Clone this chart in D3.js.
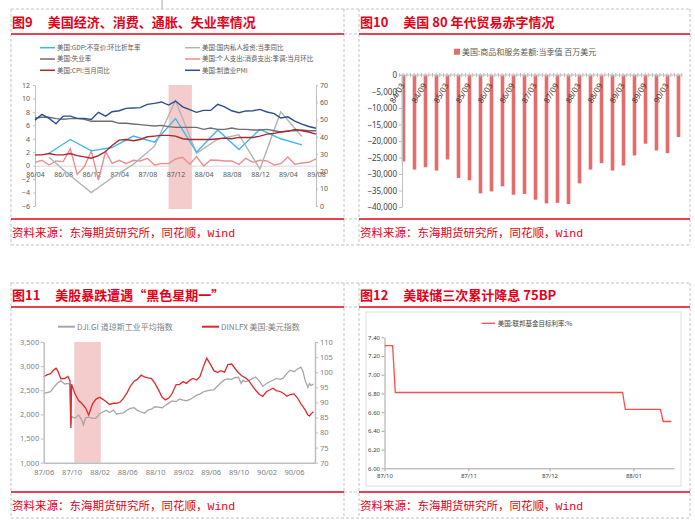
<!DOCTYPE html>
<html>
<head>
<meta charset="utf-8">
<script src="https://cdn.jsdelivr.net/npm/d3@7"></script>
<style>
  body { margin: 0; background: #fff; }
  text { font-family: "Noto Sans", "Noto Sans CJK SC", sans-serif; }
</style>
</head>
<body>
<div id="chart"></div>
<script>
// ---------- data ----------
// 图9 monthly series, 86/04 .. 89/08
var p1Pmi = [49.7, 53, 50.7, 47.6, 52, 52, 50.7, 50.7, 50.1,
  54.2, 52, 54.5, 55.1, 56.5, 56.7, 56.9, 58.8, 59.4, 60.2, 58.4, 60.7,
  57.4, 55.7, 54.2, 55.3, 55.3, 58.8, 57.3, 55.1, 54, 55, 55.1, 55.9,
  54.4, 53.4, 50.9, 51.6, 49.1, 47.4, 46, 45];
var p1Unemp = [7.1, 7.2, 7.2, 7.0, 6.9, 7.0, 7.0, 6.9, 6.6,
  6.6, 6.6, 6.6, 6.3, 6.3, 6.2, 6.1, 6.0, 5.9, 6.0, 5.8, 5.7,
  5.7, 5.7, 5.7, 5.4, 5.6, 5.4, 5.4, 5.6, 5.4, 5.4, 5.3, 5.3,
  5.4, 5.2, 5.0, 5.2, 5.2, 5.3, 5.2, 5.2];
var p1Cpi = [1.6, 1.6, 1.8, 1.6, 1.6, 1.8, 1.5, 1.3, 1.1,
  1.5, 2.1, 3.0, 3.8, 3.9, 3.7, 3.9, 4.3, 4.4, 4.5, 4.5, 4.4,
  4.0, 3.9, 3.9, 3.9, 3.9, 4.0, 4.1, 4.0, 4.2, 4.2, 4.2, 4.4,
  4.7, 4.8, 5.0, 5.1, 5.4, 5.2, 5.0, 4.7];
var p1Spend = [0.5, 0.8, 0.1, 0.7, 0.6, 2.5, -1.3, -0.15, 2.2,
  -2.15, 2.1, 0.35, 0.8, 0.3, 0.8, 0.7, 1.1, 0.1, 0.3, 0.3, 1.0,
  1.25, 0.2, 1.35, -0.05, 0.85, 0.8, 0.7, 0.7, 0.2, 1.1, 0.5, 0.8,
  0.7, 0.1, 0.3, 1.3, 0.2, 0.4, 0.5, 1.0];
// quarterly, 86/06 .. 89/06
var p1Quarters = ["1986-06-01", "1986-09-01", "1986-12-01", "1987-03-01", "1987-06-01", "1987-09-01",
  "1987-12-01", "1988-03-01", "1988-06-01", "1988-09-01", "1988-12-01", "1989-03-01", "1989-06-01"];
var p1Gdp = [1.85, 3.9, 2.2, 2.7, 4.4, 3.5, 7.0, 2.0, 5.3, 2.4, 5.4, 4.0, 3.1];
var p1Invest = [1.25, -1.5, -4.0, -1.8, 0.2, 2.9, 9.7, 1.85, 3.95, 4.6, -0.5, 8.0, 4.35];
var p1LeftTicks = [-6, -4, -2, 0, 2, 4, 6, 8, 10, 12];
var p1RightTicks = [0, 10, 20, 30, 40, 50, 60, 70];
var p1TickDates = ["1986-04-01", "1986-08-01", "1986-12-01", "1987-04-01", "1987-08-01", "1987-12-01",
  "1988-04-01", "1988-08-01", "1988-12-01", "1989-04-01", "1989-08-01"];
var p1Shade = ["1987-11-01", "1988-02-10"];

// 图10 quarterly trade balance, 百万美元
var p2Quarters = ["84/03", "84/06", "84/09", "84/12", "85/03", "85/06", "85/09", "85/12",
  "86/03", "86/06", "86/09", "86/12", "87/03", "87/06", "87/09", "87/12",
  "88/03", "88/06", "88/09", "88/12", "89/03", "89/06", "89/09", "89/12", "90/03", "90/06"];
var p2Values = [-26200, -28660, -27950, -28960, -25600, -31190, -31900, -35870,
  -35260, -33740, -36280, -36070, -37800, -38920, -38720, -39120,
  -32830, -28660, -26730, -28960, -27440, -24390, -20830, -22870, -23680, -18800];
var p2Ticks = [0, -5000, -10000, -15000, -20000, -25000, -30000, -35000, -40000];

// 图11 DJI and dollar index
var djiSeries = [["1987-06-01", 2434], ["1987-06-15", 2450], ["1987-07-01", 2470], ["1987-07-15", 2560],
  ["1987-08-01", 2650], ["1987-08-15", 2697], ["1987-09-01", 2630], ["1987-09-15", 2641],
  ["1987-09-24", 2620], ["1987-09-28", 1780], ["1987-10-01", 1960], ["1987-10-15", 1920],
  ["1987-11-01", 1986], ["1987-11-15", 1883], ["1987-11-22", 1780], ["1987-12-01", 1930],
  ["1987-12-15", 1945], ["1988-01-01", 1917], ["1988-01-15", 1917], ["1988-02-01", 2015],
  ["1988-02-15", 2050], ["1988-03-01", 2085], ["1988-03-15", 2040], ["1988-04-01", 2088],
  ["1988-04-15", 2010], ["1988-05-01", 2020], ["1988-05-15", 2034], ["1988-06-01", 2092],
  ["1988-06-15", 2125], ["1988-07-01", 2140], ["1988-07-15", 2085], ["1988-08-01", 2050],
  ["1988-08-15", 2025], ["1988-09-01", 2095], ["1988-09-15", 2110], ["1988-10-01", 2159],
  ["1988-10-15", 2150], ["1988-11-01", 2135], ["1988-11-15", 2190], ["1988-12-01", 2240],
  ["1988-12-15", 2280], ["1989-01-01", 2265], ["1989-01-15", 2320], ["1989-02-01", 2297],
  ["1989-02-15", 2284], ["1989-03-01", 2305], ["1989-03-15", 2345], ["1989-04-01", 2400],
  ["1989-04-15", 2420], ["1989-05-01", 2470], ["1989-05-15", 2490], ["1989-06-01", 2503],
  ["1989-06-15", 2510], ["1989-07-01", 2590], ["1989-07-15", 2650], ["1989-08-01", 2720],
  ["1989-08-15", 2735], ["1989-09-01", 2725], ["1989-09-15", 2760], ["1989-10-01", 2770],
  ["1989-10-13", 2641], ["1989-10-20", 2705], ["1989-11-01", 2680], ["1989-11-15", 2700],
  ["1989-12-01", 2740], ["1989-12-15", 2775], ["1990-01-01", 2690], ["1990-01-15", 2580],
  ["1990-02-01", 2640], ["1990-02-15", 2676], ["1990-03-01", 2708], ["1990-03-15", 2745],
  ["1990-04-01", 2725], ["1990-04-15", 2750], ["1990-05-01", 2850], ["1990-05-15", 2915],
  ["1990-06-01", 2885], ["1990-06-15", 2935], ["1990-07-01", 2980], ["1990-07-10", 2900],
  ["1990-07-20", 2700], ["1990-08-01", 2560], ["1990-08-08", 2640], ["1990-08-15", 2600],
  ["1990-08-25", 2628]];
var usdSeries = [["1987-06-01", 98.5], ["1987-06-15", 99.1], ["1987-07-01", 99.5], ["1987-07-15", 100.7],
  ["1987-07-25", 101.3], ["1987-08-01", 100.5], ["1987-08-15", 97.8], ["1987-09-01", 97.9],
  ["1987-09-15", 98.6], ["1987-09-24", 97.2], ["1987-09-28", 81.5], ["1987-10-01", 96.0],
  ["1987-10-15", 93.0], ["1987-11-01", 90.6], ["1987-11-15", 89.6], ["1987-12-01", 88.2],
  ["1987-12-15", 85.8], ["1988-01-01", 89.5], ["1988-01-15", 91.0], ["1988-02-01", 91.7],
  ["1988-02-15", 91.0], ["1988-03-01", 90.2], ["1988-03-15", 89.3], ["1988-04-01", 89.7],
  ["1988-04-15", 89.7], ["1988-05-01", 90.1], ["1988-05-15", 91.3], ["1988-06-01", 93.3],
  ["1988-06-15", 95.4], ["1988-07-01", 97.0], ["1988-07-15", 97.6], ["1988-08-01", 99.0],
  ["1988-08-15", 98.4], ["1988-09-01", 98.1], ["1988-09-15", 97.9], ["1988-10-01", 96.2],
  ["1988-10-15", 94.2], ["1988-11-01", 91.7], ["1988-11-15", 90.8], ["1988-12-01", 91.5],
  ["1988-12-15", 93.0], ["1989-01-01", 95.9], ["1989-01-15", 95.9], ["1989-02-01", 96.9],
  ["1989-02-15", 96.3], ["1989-03-01", 97.3], ["1989-03-15", 97.9], ["1989-04-01", 97.4],
  ["1989-04-15", 98.5], ["1989-05-01", 102.0], ["1989-05-15", 104.6], ["1989-06-01", 102.5],
  ["1989-06-15", 100.5], ["1989-07-01", 99.9], ["1989-07-15", 100.5], ["1989-08-01", 100.0],
  ["1989-08-15", 102.5], ["1989-09-01", 102.7], ["1989-09-15", 101.3], ["1989-10-01", 99.8],
  ["1989-10-15", 98.8], ["1989-11-01", 98.1], ["1989-11-15", 97.2], ["1989-12-01", 95.5],
  ["1989-12-15", 94.0], ["1990-01-01", 92.6], ["1990-01-15", 92.0], ["1990-02-01", 93.6],
  ["1990-02-15", 94.1], ["1990-03-01", 94.7], ["1990-03-15", 93.9], ["1990-04-01", 93.6],
  ["1990-04-15", 93.0], ["1990-05-01", 92.0], ["1990-05-15", 92.6], ["1990-06-01", 92.8],
  ["1990-06-15", 91.6], ["1990-07-01", 89.6], ["1990-07-10", 88.6], ["1990-07-20", 87.5],
  ["1990-08-01", 85.8], ["1990-08-08", 85.5], ["1990-08-15", 86.2], ["1990-08-25", 86.9]];
var p3LeftTicks = [1000, 1500, 2000, 2500, 3000, 3500];
var p3RightTicks = [70, 75, 80, 85, 90, 95, 100, 105, 110];
var p3TickDates = ["1987-06-01", "1987-10-01", "1988-02-01", "1988-06-01", "1988-10-01",
  "1989-02-01", "1989-06-01", "1989-10-01", "1990-02-01", "1990-06-01"];
var p3Shade = ["1987-10-13", "1988-02-06"];

// 图12 fed funds target
var fedDates = ["1987-10-01", "1987-10-04", "1987-10-05", "1987-12-28", "1987-12-29",
  "1988-01-11", "1988-01-12", "1988-01-15"];
var fedValues = [7.31, 7.31, 6.81, 6.81, 6.63, 6.63, 6.50, 6.50];
var p4Ticks = [6.0, 6.2, 6.4, 6.6, 6.8, 7.0, 7.2, 7.4];
var p4TickDates = ["1987-10-01", "1987-11-01", "1987-12-01", "1988-01-01"];

// ---------- setup ----------
var parse = d3.timeParse("%Y-%m-%d");
var red = "#e50019";
var dash = "#c4c4c4";
var cjk = "\"Noto Sans CJK SC\", sans-serif";

var svg = d3.select("#chart").append("svg")
  .attr("width", 695)
  .attr("height", 521);

// small grey stub at the top (border of the cell above)
svg.append("line").attr("x1", 162).attr("x2", 162).attr("y1", 0).attr("y2", 9)
  .attr("stroke", "#a6a6a6");

function frameRow(yTop, yTitle, yFoot, yBot, titles) {
  var cols = [[11, 344], [359, 690]];
  // dashed cell borders
  [[11, 690, yTop], [11, 690, yBot], [344, 359, yTitle], [344, 359, yFoot]].forEach(function(h) {
    svg.append("line").attr("x1", h[0]).attr("x2", h[1]).attr("y1", h[2]).attr("y2", h[2])
      .attr("stroke", dash).attr("stroke-dasharray", "3,2");
  });
  [11, 344, 359, 690].forEach(function(x) {
    svg.append("line").attr("x1", x).attr("x2", x).attr("y1", yTop).attr("y2", yBot)
      .attr("stroke", dash).attr("stroke-dasharray", "3,2");
  });
  cols.forEach(function(c, i) {
    svg.append("line").attr("x1", c[0]).attr("x2", c[1]).attr("y1", yTitle).attr("y2", yTitle)
      .attr("stroke", red).attr("stroke-width", 1.5);
    svg.append("line").attr("x1", c[0]).attr("x2", c[1]).attr("y1", yFoot).attr("y2", yFoot)
      .attr("stroke", red).attr("stroke-width", 1.5);

    var num = svg.append("text").attr("x", c[0] + 1).attr("y", yTitle - 7)
      .style("font-family", cjk).attr("font-weight", "bold").attr("font-size", 13)
      .attr("fill", red).text(titles[i][0]);
    var w = num.node().getComputedTextLength();
    svg.append("text").attr("x", c[0] + 1 + w + 15).attr("y", yTitle - 7)
      .style("font-family", cjk).attr("font-weight", "bold").attr("font-size", 13)
      .attr("fill", red).text(titles[i][1]);

    var src = svg.append("text").attr("x", c[0] + 1).attr("y", yFoot + 18)
      .style("font-family", cjk).attr("font-size", 11.5).attr("fill", red);
    src.append("tspan").text("资料来源：东海期货研究所，同花顺，");
    src.append("tspan").style("font-family", "\"Liberation Mono\", monospace").text("Wind");
  });
}

frameRow(9, 34, 219, 245, [["图9", "美国经济、消费、通胀、失业率情况"], ["图10", "美国 80 年代贸易赤字情况"]]);
frameRow(283, 307, 492, 518, [["图11", "美股暴跌遭遇“黑色星期一”"], ["图12", "美联储三次累计降息 75BP"]]);

function styleAxis(g, size, color, lineColor) {
  g.select(".domain").attr("stroke", lineColor);
  g.selectAll(".tick line").attr("stroke", lineColor);
  g.selectAll(".tick text").attr("font-size", size).attr("fill", color);
}

// ---------- 图9 ----------
var p1Months = d3.timeMonth.range(parse("1986-04-01"), parse("1989-09-01"));
var p1x = d3.scaleTime().domain([parse("1986-04-01"), parse("1989-08-01")]).range([35, 316]);
var p1yL = d3.scaleLinear().domain([-6, 12]).range([206, 85]);
var p1yR = d3.scaleLinear().domain([0, 70]).range([206, 85]);

svg.append("rect")
  .attr("x", p1x(parse(p1Shade[0])))
  .attr("width", p1x(parse(p1Shade[1])) - p1x(parse(p1Shade[0])))
  .attr("y", p1yL(12))
  .attr("height", p1yL(-6) - p1yL(12) + 3)
  .attr("fill", "#f4cccc");

var gL = svg.append("g").attr("transform", "translate(35,0)")
  .call(d3.axisLeft(p1yL).tickValues(p1LeftTicks).tickSize(2).tickPadding(3).tickSizeOuter(0));
styleAxis(gL, 7, "#595959", "#bfbfbf");
var gR = svg.append("g").attr("transform", "translate(316,0)")
  .call(d3.axisRight(p1yR).tickValues(p1RightTicks).tickSize(2).tickPadding(2).tickSizeOuter(0));
styleAxis(gR, 7, "#595959", "#bfbfbf");
var gX = svg.append("g").attr("transform", "translate(0," + p1yL(0) + ")")
  .call(d3.axisBottom(p1x).tickValues(p1TickDates.map(parse)).tickFormat(d3.timeFormat("%y/%m"))
    .tickSize(0).tickPadding(6).tickSizeOuter(0));
styleAxis(gX, 7, "#595959", "#d9d9d9");

var p1Lines = [
  { name: "美国:GDP:不变价:环比折年率", color: "#3cb8ee", dates: p1Quarters.map(parse), values: p1Gdp, y: p1yL },
  { name: "美国:国内私人投资:当季同比", color: "#b3b3b3", dates: p1Quarters.map(parse), values: p1Invest, y: p1yL },
  { name: "美国:失业率", color: "#6e6e6e", dates: p1Months, values: p1Unemp, y: p1yL },
  { name: "美国:个人支出:消费支出:季调:当月环比", color: "#f08c8c", dates: p1Months, values: p1Spend, y: p1yL },
  { name: "美国:CPI:当月同比", color: "#a8282c", dates: p1Months, values: p1Cpi, y: p1yL },
  { name: "美国:制造业PMI", color: "#2b4f8e", dates: p1Months, values: p1Pmi, y: p1yR }
];
var p1Order = [3, 1, 0, 2, 4, 5];
p1Order.forEach(function(i) {
  var s = p1Lines[i];
  var line = d3.line()
    .x(function(d, k) { return p1x(s.dates[k]); })
    .y(function(d) { return s.y(d); });
  svg.append("path").datum(s.values)
    .attr("d", line).attr("fill", "none")
    .attr("stroke", s.color).attr("stroke-width", 1.4);
});

var legendPos = [[40, 47.7], [185, 47.7], [40, 59], [185, 59], [40, 70.3], [185, 70.3]];
p1Lines.forEach(function(s, i) {
  var p = legendPos[i];
  svg.append("line").attr("x1", p[0]).attr("x2", p[0] + 15).attr("y1", p[1]).attr("y2", p[1])
    .attr("stroke", s.color).attr("stroke-width", 1.5);
  svg.append("text").attr("x", p[0] + 17).attr("y", p[1] + 2.3)
    .style("font-family", cjk).attr("font-size", 6.5).attr("fill", "#595959").text(s.name);
});

// ---------- 图10 ----------
var p2x = d3.scaleBand().domain(p2Quarters).range([398, 684]);
var p2y = d3.scaleLinear().domain([-40000, 0]).range([207, 75]);

svg.append("rect").attr("x", 454).attr("y", 48.7).attr("width", 6).attr("height", 6).attr("fill", "#e46c6c");
svg.append("text").attr("x", 462).attr("y", 54.6)
  .style("font-family", cjk).attr("font-size", 8).attr("fill", "#595959")
  .text("美国:商品和服务差额:当季值 百万美元");

svg.selectAll(".tradeBar")
  .data(p2Values)
  .enter()
  .append("rect")
  .attr("class", "tradeBar")
  .attr("x", function(d, i) { return p2x(p2Quarters[i]) + p2x.bandwidth() / 2 - 1.8; })
  .attr("width", 3.6)
  .attr("y", p2y(0))
  .attr("height", function(d) { return p2y(d) - p2y(0); })
  .attr("fill", "#e46c6c");

var gY2 = svg.append("g").attr("transform", "translate(402,0)")
  .call(d3.axisLeft(p2y).tickValues(p2Ticks).tickSize(3).tickPadding(2).tickSizeOuter(0));
styleAxis(gY2, 8, "#404040", "#bfbfbf");

// category axis along zero with monthly ticks
svg.append("line").attr("x1", 400).attr("x2", 682).attr("y1", p2y(0)).attr("y2", p2y(0))
  .attr("stroke", "#bfbfbf");
p2Quarters.forEach(function(q) {
  [0, 1, 2].forEach(function(k) {
    var tx = p2x(q) + p2x.step() * k / 3 + 1.5;
    svg.append("line").attr("x1", tx).attr("x2", tx).attr("y1", p2y(0) - 2).attr("y2", p2y(0) + 2)
      .attr("stroke", "#bfbfbf");
  });
});
p2Quarters.forEach(function(q, i) {
  if (i % 2) return;
  var cx = p2x(q) + p2x.bandwidth() / 2;
  svg.append("text")
    .attr("transform", "translate(" + (cx - 1) + "," + (p2y(0) + 9) + ") rotate(-60)")
    .attr("text-anchor", "end")
    .attr("dy", "0.35em")
    .attr("font-size", 8)
    .attr("fill", "#404040")
    .text(q);
});

// ---------- 图11 ----------
var p3x = d3.scaleTime().domain([parse("1987-06-01"), parse("1990-09-01")]).range([43.7, 315]);
var p3yL = d3.scaleLinear().domain([1000, 3500]).range([462.7, 342]);
var p3yR = d3.scaleLinear().domain([70, 110]).range([462.7, 342]);

svg.append("rect")
  .attr("x", p3x(parse(p3Shade[0])))
  .attr("width", p3x(parse(p3Shade[1])) - p3x(parse(p3Shade[0])))
  .attr("y", p3yL(3500))
  .attr("height", p3yL(1000) - p3yL(3500))
  .attr("fill", "#f4cccc");

var p3LegendItems = [
  { x: 58, color: "#a6a6a6", name: "DJI.GI 道琼斯工业平均指数" },
  { x: 202, color: "#e0282e", name: "DINLFX 美国:美元指数" }
];
p3LegendItems.forEach(function(it) {
  svg.append("line").attr("x1", it.x).attr("x2", it.x + 17).attr("y1", 326.7).attr("y2", 326.7)
    .attr("stroke", it.color).attr("stroke-width", 2);
  svg.append("text").attr("x", it.x + 19).attr("y", 329.6)
    .style("font-family", cjk).attr("font-size", 8).attr("fill", "#7f7f7f").text(it.name);
});

var djiLine = d3.line()
  .x(function(d) { return p3x(parse(d[0])); })
  .y(function(d) { return p3yL(d[1]); });
var usdLine = d3.line()
  .x(function(d) { return p3x(parse(d[0])); })
  .y(function(d) { return p3yR(d[1]); });
svg.append("path").datum(djiSeries).attr("d", djiLine)
  .attr("fill", "none").attr("stroke", "#a6a6a6").attr("stroke-width", 1.3);
svg.append("path").datum(usdSeries).attr("d", usdLine)
  .attr("fill", "none").attr("stroke", "#e0282e").attr("stroke-width", 1.3);

var g3L = svg.append("g").attr("transform", "translate(43.7,0)")
  .call(d3.axisLeft(p3yL).tickValues(p3LeftTicks).tickFormat(d3.format(",")).tickSize(3).tickPadding(1.5).tickSizeOuter(0));
styleAxis(g3L, 7.5, "#7f7f7f", "#bfbfbf");
g3L.select(".domain").attr("stroke-width", 1.5);
var g3R = svg.append("g").attr("transform", "translate(315,0)")
  .call(d3.axisRight(p3yR).tickValues(p3RightTicks).tickSize(3).tickPadding(2).tickSizeOuter(0));
styleAxis(g3R, 7.5, "#7f7f7f", "#bfbfbf");
g3R.select(".domain").attr("stroke-width", 1.5);
var g3X = svg.append("g").attr("transform", "translate(0,462.7)")
  .call(d3.axisBottom(p3x).tickValues(p3TickDates.map(parse)).tickFormat(d3.timeFormat("%y/%m"))
    .tickSize(0).tickPadding(7).tickSizeOuter(0));
styleAxis(g3X, 7.5, "#7f7f7f", "#bfbfbf");
g3X.select(".domain").attr("stroke-width", 1.5);

// ---------- 图12 ----------
svg.append("rect").attr("x", 366).attr("y", 312).attr("width", 315).attr("height", 174)
  .attr("fill", "#fff").attr("stroke", "#dcdcdc");

var p4x = d3.scaleTime().domain([parse("1987-10-01"), parse("1988-01-16")]).range([384.5, 674]);
var p4y = d3.scaleLinear().domain([6.0, 7.4]).range([468.3, 337.3]);

svg.append("line").attr("x1", 481.7).attr("x2", 495).attr("y1", 323.3).attr("y2", 323.3)
  .attr("stroke", "#ff4b4b").attr("stroke-width", 1.3);
svg.append("text").attr("x", 497.7).attr("y", 325.6)
  .style("font-family", cjk).attr("font-size", 6.5).attr("fill", "#404040")
  .text("美国:联邦基金目标利率:%");

var g4Y = svg.append("g").attr("transform", "translate(384.5,0)")
  .call(d3.axisLeft(p4y).tickValues(p4Ticks).tickFormat(d3.format(".2f")).tickSize(3).tickPadding(1.5).tickSizeOuter(0));
styleAxis(g4Y, 6, "#404040", "#a6a6a6");
var g4X = svg.append("g").attr("transform", "translate(0,468.3)")
  .call(d3.axisBottom(p4x).tickValues(p4TickDates.map(parse)).tickFormat(d3.timeFormat("%y/%m"))
    .tickSize(3).tickPadding(2).tickSizeOuter(0));
styleAxis(g4X, 6, "#404040", "#a6a6a6");

var fedLine = d3.line()
  .x(function(d, i) { return p4x(parse(fedDates[i])); })
  .y(function(d) { return p4y(d); });
svg.append("path").datum(fedValues).attr("d", fedLine)
  .attr("fill", "none").attr("stroke", "#ff4b4b").attr("stroke-width", 1.3);
</script>
</body>
</html>
